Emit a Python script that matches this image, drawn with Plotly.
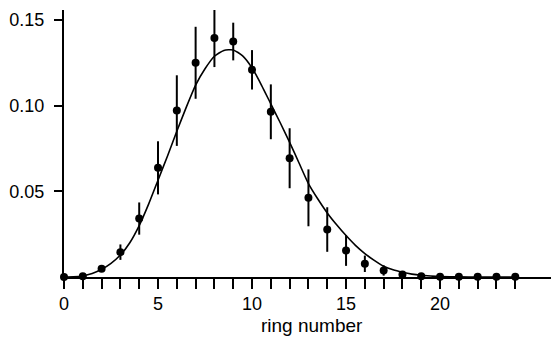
import plotly.graph_objects as go

# Measured fraction per ring, with symmetric uncertainties
ring = list(range(25))
fraction = [0.0000, 0.0005, 0.0048, 0.0145, 0.0341, 0.0637, 0.0971, 0.1250,
            0.1395, 0.1374, 0.1209, 0.0964, 0.0693, 0.0462, 0.0277, 0.0155,
            0.0077, 0.0038, 0.0015, 0.0005, 0.0002, 0.0001, 0.0001, 0.0001,
            0.0001]
fraction_err = [0.0, 0.0, 0.0, 0.0045, 0.0094, 0.0155, 0.0206, 0.0210,
                0.0170, 0.0110, 0.0115, 0.0160, 0.0175, 0.0166, 0.0130,
                0.0090, 0.0048, 0.0030, 0.0, 0.0, 0.0, 0.0, 0.0, 0.0, 0.0]

# Fitted distribution, sampled along the ring axis
fit_x = [0, 0.5, 1, 1.5, 2, 2.5, 3, 3.5, 4, 4.5, 5, 5.5, 6, 6.5, 7, 7.5, 8,
         8.5, 9, 9.5, 10, 10.5, 11, 11.5, 12, 12.5, 13, 13.5, 14, 14.5, 15,
         15.5, 16, 16.5, 17, 17.5, 18, 18.5, 19, 19.5, 20, 21, 22, 23, 24]
fit_y = [0.0, 0.0001, 0.0006, 0.0020, 0.0045, 0.0080, 0.0128, 0.0200,
         0.0300, 0.0425, 0.0565, 0.0705, 0.0850, 0.0990, 0.1120, 0.1215,
         0.1288, 0.1322, 0.1325, 0.1290, 0.1220, 0.1120, 0.1010, 0.0900,
         0.0786, 0.0665, 0.0545, 0.0455, 0.0374, 0.0305, 0.0242, 0.0185,
         0.0137, 0.0097, 0.0063, 0.0042, 0.0028, 0.0017, 0.0010, 0.0006,
         0.0003, 0.0001, 0.0, 0.0, 0.0]

x_major = [0, 5, 10, 15, 20]
y_ticks = [0.05, 0.10, 0.15]
y_labels = ["0.05", "0.10", "0.15"]

FONT = "Liberation Sans, Arial, Helvetica, sans-serif"

fig = go.Figure()
fig.add_trace(go.Scatter(
    x=fit_x, y=fit_y, mode="lines", line=dict(color="black", width=1.6,
                                              shape="spline", smoothing=0.6),
    cliponaxis=False, hoverinfo="skip"))
fig.add_trace(go.Scatter(
    x=ring, y=fraction, mode="markers",
    marker=dict(color="black", size=8),
    error_y=dict(type="data", array=fraction_err, visible=True,
                 color="black", thickness=2, width=0),
    cliponaxis=False))

fig.update_layout(
    width=551, height=337,
    margin=dict(l=64, r=0, t=10, b=60),
    paper_bgcolor="white", plot_bgcolor="white",
    showlegend=False,
    font=dict(family=FONT, size=18, color="black"),
    xaxis=dict(
        range=[0, 25.9], showgrid=False, zeroline=False,
        showline=True, linecolor="black", linewidth=1.6,
        tickmode="array", tickvals=ring,
        ticktext=[str(v) if v in x_major else "" for v in ring],
        ticks="outside", ticklen=10, tickwidth=1.6, tickcolor="black",
    ),
    yaxis=dict(
        range=[0, 0.1558], showgrid=False, zeroline=False,
        showline=True, linecolor="black", linewidth=2,
        tickmode="array", tickvals=y_ticks, ticktext=y_labels,
        ticks="outside", ticklen=8, tickwidth=1.6, tickcolor="black",
        ticklabelstandoff=6,
    ),
    annotations=[dict(
        text="ring number", x=0.5086, xref="paper", y=-0.1835, yref="paper",
        xanchor="center", yanchor="middle", showarrow=False,
        font=dict(family=FONT, size=19, color="black"))],
)

fig.write_html("out.html")
